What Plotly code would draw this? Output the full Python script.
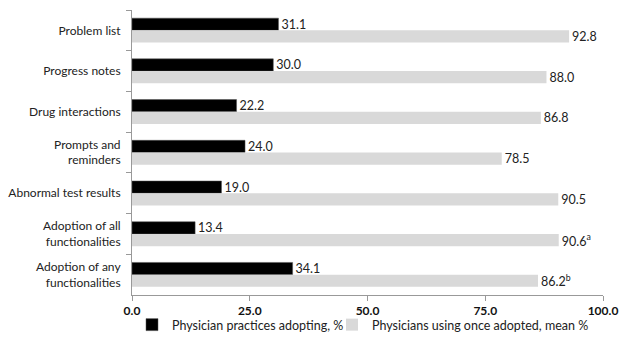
import plotly.graph_objects as go

categories = ["Problem list", "Progress notes", "Drug interactions", "Prompts and<br>reminders",
              "Abnormal test results", "Adoption of all<br>functionalities", "Adoption of any<br>functionalities"]
adopting = [31.1, 30.0, 22.2, 24.0, 19.0, 13.4, 34.1]
using = [92.8, 88.0, 86.8, 78.5, 90.5, 90.6, 86.2]
using_labels = ["92.8", "88.0", "86.8", "78.5", "90.5", "90.6<sup>a</sup>", "86.2<sup>b</sup>"]
tick_vals = [0, 25, 50, 75, 100]
tick_text = ["0.0", "25.0", "50.0", "75.0", "100.0"]

FONT = "Lato"
W, H = 619, 339

fig = go.Figure()
fig.add_trace(go.Bar(
    y=categories, x=adopting, orientation="h", name="Physician practices adopting, %",
    marker=dict(color="#000000", line=dict(color="#555555", width=0.5)),
    text=[f"{v:.1f}" for v in adopting], textposition="outside", constraintext="none",
    textfont=dict(size=12.5, color="#222222", family=FONT), cliponaxis=False,
    legend="legend",
))
fig.add_trace(go.Bar(
    y=categories, x=using, orientation="h", name="Physicians using once adopted, mean %",
    marker=dict(color="#d9d9d9", line=dict(width=0)),
    text=using_labels, textposition="outside", constraintext="none",
    textfont=dict(size=12.5, color="#222222", family=FONT), cliponaxis=False,
    legend="legend2",
))

leg_common = dict(orientation="h", xref="container", yref="container", xanchor="left",
                  y=(H - 325) / H, yanchor="middle", bgcolor="rgba(0,0,0,0)",
                  font=dict(size=12.5, family=FONT, color="#222222"), itemwidth=30)

fig.update_layout(
    width=W, height=H,
    margin=dict(l=132, r=16, t=10, b=44, autoexpand=False),
    barmode="group", bargap=0.4, bargroupgap=0,
    plot_bgcolor="white", paper_bgcolor="white",
    font=dict(family=FONT, size=12, color="#222222"),
    showlegend=True,
    legend=dict(x=132 / W, **leg_common),
    legend2=dict(x=332 / W, **leg_common),
    xaxis=dict(range=[0, 100], tickvals=tick_vals, ticktext=tick_text,
               showgrid=False, zeroline=False, showline=True, linecolor="#999999", linewidth=1,
               ticks="outside", ticklen=5, tickcolor="#999999",
               tickfont=dict(size=12, family=FONT, color="#111111", weight="bold")),
    yaxis=dict(autorange="reversed", showgrid=False, showline=True, linecolor="#999999", linewidth=1,
               ticks="outside", tickson="boundaries", ticklen=5, tickcolor="#999999",
               ticklabelstandoff=8,
               tickfont=dict(size=12, family=FONT, color="#222222")),
)

fig.write_html("out.html")
